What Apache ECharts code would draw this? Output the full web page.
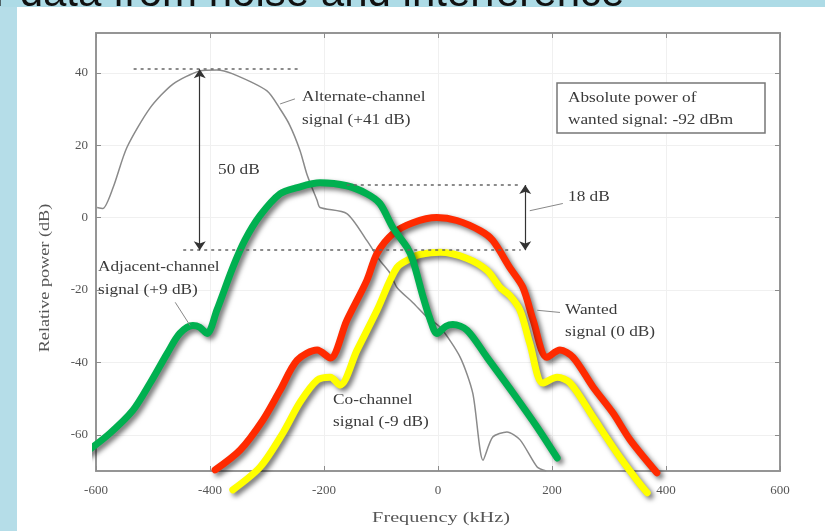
<!DOCTYPE html>
<html>
<head>
<meta charset="utf-8">
<script src="https://cdn.jsdelivr.net/npm/echarts@6/dist/echarts.min.js"></script>
<style>
html, body { margin: 0; padding: 0; background: #b3dce7; }
#main { width: 825px; height: 531px; }
</style>
</head>
<body>
<div id="main"></div>
<script>
// frequency (kHz) / relative power (dB)

// alternate-channel signal (+41 dB), thin grey scan curve
var altX = [-598, -588, -570, -546, -505, -465, -418, -388, -360, -300, -277, -260, -242, -230, -212, -207, -160, -125, -102, -84, -72, -44, -19, 4, 39, 61, 79, 96, 121, 144, 174, 190];
var altY = [2.8, 2.5, 8.3, 19.3, 30.3, 36.9, 40.5, 40.8, 39.7, 35, 30, 25.5, 18.5, 12, 4.7, 2.8, 1.1, -6.3, -11.8, -15.4, -19.3, -23.5, -27.5, -30.3, -38.6, -48.5, -67, -60.6, -59.2, -61.4, -68.9, -70];

// adjacent-channel signal (+9 dB), green
var adjX = [-619, -575, -535, -505, -475, -453, -430, -418, -405, -388, -360, -339, -312, -277, -247, -207, -160, -125, -102, -79, -54, -44, -26, -14, -2, 14, 26, 51, 86, 132, 174, 209];
var adjY = [-65, -59.5, -53.2, -45.7, -37.5, -32, -29.8, -30.3, -32, -25.6, -13.8, -6.3, 0.6, 6.6, 8.3, 9.6, 8.8, 6.6, 3.9, -2.8, -8.3, -11.8, -22, -28, -32, -30, -29.5, -31.1, -38.6, -48.5, -57.9, -66.4];

// wanted signal (0 dB), red
var wantX = [-391, -347, -307, -277, -247, -212, -189, -160, -125, -107, -79, -44, -2, 33, 74, 96, 126, 149, 167, 191, 214, 237, 272, 307, 337, 384];
var wantY = [-69.7, -64.2, -55.9, -47.7, -39.4, -36.6, -38.8, -28.4, -17.4, -9.9, -4.4, -1.4, 0, -0.8, -3.6, -6.3, -13.8, -19.3, -28.4, -38.6, -36.6, -38.6, -46.8, -54, -61.4, -70.5];

// co-channel signal (-9 dB), yellow
var coX = [-360, -312, -272, -242, -212, -189, -172, -142, -107, -72, -44, -32, 4, 51, 86, 109, 126, 144, 161, 184, 209, 232, 272, 314, 349, 367];
var coY = [-75.2, -68.9, -59.5, -51, -44.9, -44.1, -46.3, -36.6, -25.6, -13.8, -11, -10.2, -9.6, -11.3, -14.6, -19.3, -21.5, -25.6, -34.7, -45.7, -44.1, -45.7, -55.1, -65, -72.5, -76];

// axis ticks
var xTicks = [-600, -400, -200, 0, 200, 400, 600];
var yTicks = [-60, -40, -20, 0, 20, 40];

// dotted reference levels: level, from, to
var dashLevel = [41, 9, -9];
var dashFrom = [-534, -160, -447];
var dashTo = [-242, 145, 145];

// double arrows: x, top, bottom
var arrowX = [-418, 153];
var arrowTop = [41, 9];
var arrowBottom = [-9, -9];

// label leader lines: [x1, y1, x2, y2]
var leaders = [
  [-277, 31.4, -251, 32.8],
  [-461, -23.4, -435, -29.8],
  [161, 1.9, 219, 3.9],
  [174, -25.6, 214, -26.2]
];

function pairs(xs, ys) {
  return xs.map(function (x, i) { return [x, ys[i]]; });
}

var marks = [];
dashLevel.forEach(function (lv, i) {
  marks.push([
    { coord: [dashFrom[i], lv], symbol: 'none', lineStyle: { type: [3, 4], color: '#666', width: 1.6 } },
    { coord: [dashTo[i], lv], symbol: 'none' }
  ]);
});
arrowX.forEach(function (x, i) {
  marks.push([
    { coord: [x, arrowTop[i]], symbol: 'arrow', lineStyle: { type: 'solid', color: '#333', width: 1.2 } },
    { coord: [x, arrowBottom[i]], symbol: 'arrow' }
  ]);
});
leaders.forEach(function (l) {
  marks.push([
    { coord: [l[0], l[1]], symbol: 'none', lineStyle: { type: 'solid', color: '#888', width: 1 } },
    { coord: [l[2], l[3]], symbol: 'none' }
  ]);
});

var serif = '"Liberation Serif", "DejaVu Serif", serif';
var fatShadow = { shadowColor: 'rgba(0,0,0,0.55)', shadowBlur: 5, shadowOffsetX: 3, shadowOffsetY: 3, cap: 'round', join: 'round' };
var frame = { onZero: false, lineStyle: { color: '#959595', width: 2 } };
var inTick = { show: true, inside: true, length: 5, lineStyle: { color: '#8c8c8c' } };
var tickFont = { fontFamily: serif, fontSize: 13, color: '#555' };

function fat(name, xs, ys, color) {
  return {
    name: name,
    type: 'line',
    data: pairs(xs, ys),
    smooth: 0.3,
    showSymbol: false,
    clip: false,
    lineStyle: Object.assign({ color: color, width: 7 }, fatShadow)
  };
}

// scanned figure text is stretched sideways, hence scaleX
function note(x, y, text) {
  return {
    type: 'text', x: x, y: y, scaleX: 1.15, z: 100,
    style: { text: text, fill: '#3a3a3a', fontFamily: serif, fontSize: 15, verticalAlign: 'middle' }
  };
}

var chart = echarts.init(document.getElementById('main'));

chart.setOption({
  animation: false,
  backgroundColor: '#ffffff',
  grid: { left: 96, right: 45, top: 33, bottom: 60 },
  xAxis: [{
    type: 'value', min: -600, max: 600, interval: 200, position: 'bottom',
    axisLine: frame,
    axisTick: inTick,
    axisLabel: Object.assign({ margin: 13, customValues: xTicks }, tickFont),
    splitLine: { show: true, lineStyle: { color: '#f0f0f0' } }
  }, {
    type: 'value', min: -600, max: 600, interval: 200, position: 'top',
    axisLine: frame,
    axisTick: inTick,
    axisLabel: { show: false },
    splitLine: { show: false }
  }],
  yAxis: [{
    type: 'value', min: -70, max: 51, position: 'left',
    axisLine: Object.assign({ show: true }, frame),
    axisTick: Object.assign({ customValues: yTicks }, inTick),
    axisLabel: Object.assign({ margin: 8, customValues: yTicks }, tickFont),
    splitLine: { show: true, lineStyle: { color: '#f0f0f0' } }
  }, {
    type: 'value', min: -70, max: 51, position: 'right',
    axisLine: Object.assign({ show: true }, frame),
    axisTick: Object.assign({ customValues: yTicks }, inTick),
    axisLabel: { show: false },
    splitLine: { show: false }
  }],
  series: [
    {
      name: 'Alternate-channel',
      type: 'line',
      data: pairs(altX, altY),
      smooth: 0.25,
      showSymbol: false,
      lineStyle: { color: '#8a8a8a', width: 1.5 },
      markLine: { silent: true, symbolSize: 9, label: { show: false }, data: marks }
    },
    fat('Wanted', wantX, wantY, '#ff2a00'),
    fat('Co-channel', coX, coY, '#ffff00'),
    fat('Adjacent-channel', adjX, adjY, '#00b050')
  ],
  graphic: [
    { type: 'rect', shape: { x: 0, y: 0, width: 825, height: 7 }, style: { fill: '#addbe6' } },
    { type: 'text', x: -6, y: -6,
      style: { text: 'r data from noise and interference', fill: '#111',
        fontFamily: '"Liberation Sans", Arial, sans-serif', fontSize: 42, verticalAlign: 'middle' } },
    { type: 'rect', shape: { x: 17, y: 7, width: 808, height: 22 }, style: { fill: '#ffffff' } },
    { type: 'rect', shape: { x: 0, y: 7, width: 17, height: 524 }, style: { fill: '#b5dde8' } },
    note(302, 97, 'Alternate-channel'),
    note(302, 120, 'signal (+41 dB)'),
    note(98, 267, 'Adjacent-channel'),
    note(98, 290, 'signal (+9 dB)'),
    note(333, 400, 'Co-channel'),
    note(333, 422, 'signal (-9 dB)'),
    note(565, 310, 'Wanted'),
    note(565, 332, 'signal (0 dB)'),
    note(218, 170, '50 dB'),
    note(568, 197, '18 dB'),
    { type: 'rect', z: 90, shape: { x: 557, y: 83, width: 208, height: 50 },
      style: { fill: '#ffffff', stroke: '#777', lineWidth: 1.5 } },
    note(568, 98, 'Absolute power of'),
    note(568, 120, 'wanted signal: -92 dBm'),
    { type: 'text', x: 441, y: 518, scaleX: 1.35,
      style: { text: 'Frequency (kHz)', fill: '#555', fontFamily: serif, fontSize: 15,
        align: 'center', verticalAlign: 'middle' } },
    { type: 'text', x: 45, y: 278, rotation: Math.PI / 2, scaleX: 1.3,
      style: { text: 'Relative power (dB)', fill: '#555', fontFamily: serif, fontSize: 14,
        align: 'center', verticalAlign: 'middle' } }
  ]
});
</script>
</body>
</html>
